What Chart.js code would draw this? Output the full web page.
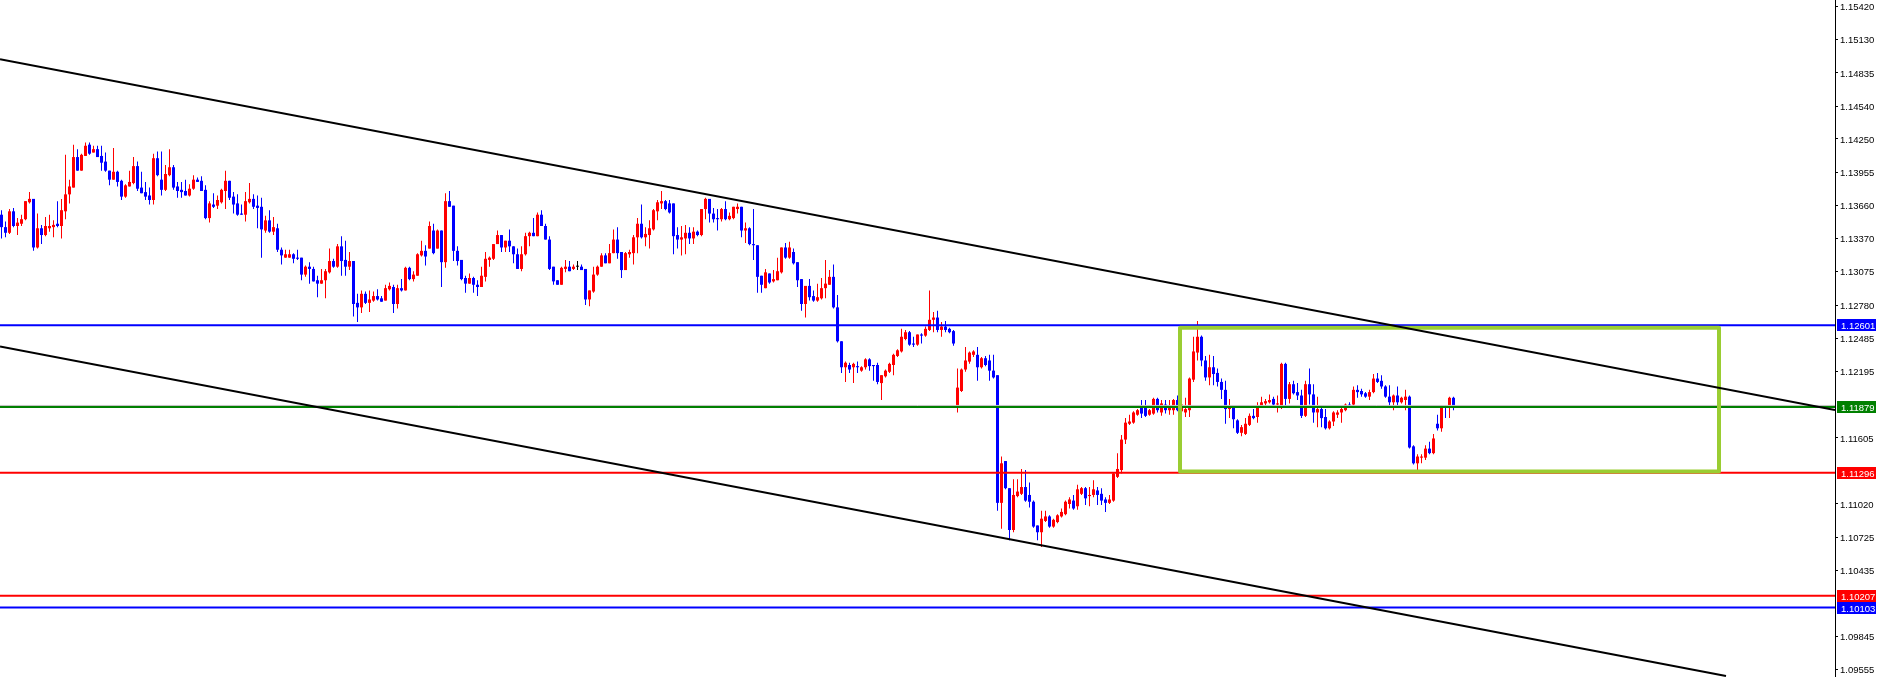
<!DOCTYPE html>
<html>
<head>
<meta charset="utf-8">
<title>EURUSD H1</title>
<script src="https://cdn.jsdelivr.net/npm/chart.js@4.4.1/dist/chart.umd.min.js"></script>
<style>
    html, body { margin: 0; padding: 0; background: #ffffff; }
    #chartWrap { position: relative; width: 1880px; height: 677px; }
</style>
</head>
<body>
<div id="chartWrap"><canvas id="priceChart"></canvas></div>
<script>
// candle values, oldest first
const openPrices = [
    1.1358,1.1347,1.1342,1.1361,1.1348,1.1350,1.1354,1.1369,1.1372,1.1329,
    1.1346,1.1340,1.1346,1.1347,1.1350,1.1348,1.1361,1.1376,1.1382,1.1409,
    1.1397,1.1410,1.1420,1.1413,1.1416,1.1410,1.1405,1.1397,1.1389,1.1396,
    1.1388,1.1374,1.1383,1.1386,1.1401,1.1382,1.1378,1.1375,1.1371,1.1408,
    1.1389,1.1380,1.1393,1.1400,1.1383,1.1380,1.1379,1.1375,1.1381,1.1389,
    1.1388,1.1380,1.1355,1.1367,1.1366,1.1369,1.1379,1.1388,1.1374,1.1368,
    1.1359,1.1358,1.1369,1.1372,1.1366,1.1365,1.1344,1.1353,1.1343,1.1346,
    1.1327,1.1320,1.1320,1.1323,1.1320,1.1320,1.1305,1.1312,1.1310,1.1300,
    1.1297,1.1300,1.1307,1.1317,1.1312,1.1330,1.1318,1.1312,1.1317,1.1280,
    1.1276,1.1288,1.1280,1.1282,1.1286,1.1284,1.1282,1.1292,1.1294,1.1279,
    1.1293,1.1291,1.1311,1.1301,1.1304,1.1322,1.1326,1.1328,1.1344,1.1328,
    1.1344,1.1316,1.1370,1.1366,1.1326,1.1318,1.1302,1.1297,1.1302,1.1296,
    1.1294,1.1303,1.1318,1.1319,1.1332,1.1340,1.1329,1.1335,1.1330,1.1323,
    1.1310,1.1323,1.1339,1.1342,1.1339,1.1358,1.1348,1.1336,1.1312,1.1300,
    1.1296,1.1310,1.1312,1.1310,1.1312,1.1312,1.1310,1.1283,1.1290,1.1305,
    1.1312,1.1322,1.1315,1.1324,1.1336,1.1325,1.1309,1.1323,1.1324,1.1338,
    1.1350,1.1338,1.1340,1.1345,1.1361,1.1368,1.1370,1.1368,1.1368,1.1340,
    1.1336,1.1337,1.1342,1.1337,1.1343,1.1340,1.1363,1.1372,1.1359,1.1355,
    1.1354,1.1363,1.1354,1.1355,1.1363,1.1365,1.1344,1.1346,1.1332,1.1331,
    1.1304,1.1293,1.1306,1.1299,1.1300,1.1307,1.1329,1.1320,1.1325,1.1316,
    1.1301,1.1279,1.1295,1.1286,1.1282,1.1284,1.1293,1.1296,1.1303,1.1276,
    1.1246,1.1223,1.1225,1.1223,1.1224,1.1220,1.1223,1.1230,1.1225,1.1225,
    1.1209,1.1215,1.1219,1.1225,1.1233,1.1237,1.1248,1.1254,1.1244,1.1243,
    1.1252,1.1251,1.1256,1.1265,1.1267,1.1256,1.1259,1.1257,1.1255,1.1187,
    1.1202,1.1221,1.1228,1.1234,1.1234,1.1223,1.1231,1.1229,1.1220,1.1216,
    1.1103,1.1140,1.1116,1.1079,1.1109,1.1111,1.1117,1.1110,1.1104,1.1083,
    1.1077,1.1087,1.1091,1.1082,1.1086,1.1091,1.1093,1.1102,1.1105,1.1100,
    1.1111,1.1116,1.1109,1.1110,1.1114,1.1111,1.1106,1.1103,1.1105,1.1126,
    1.1132,1.1159,1.1173,1.1174,1.1181,1.1189,1.1188,1.1181,1.1182,1.1195,
    1.1183,1.1190,1.1185,1.1185,1.1194,1.1184,1.1183,1.1185,1.1212,1.1236,
    1.1250,1.1229,1.1214,1.1223,1.1218,1.1210,1.1203,1.1186,1.1187,1.1176,
    1.1165,1.1164,1.1172,1.1180,1.1179,1.1188,1.1191,1.1192,1.1195,1.1190,
    1.1187,1.1226,1.1195,1.1208,1.1201,1.1198,1.1180,1.1208,1.1199,1.1183,
    1.1186,1.1179,1.1169,1.1175,1.1181,1.1183,1.1185,1.1190,1.1190,1.1203,
    1.1202,1.1200,1.1197,1.1201,1.1213,1.1211,1.1206,1.1197,1.1192,1.1198,
    1.1192,1.1194,1.1197,1.1153,1.1138,1.1143,1.1143,1.1151,1.1147,1.1173,
    1.1169,1.1188,1.1187,1.1196
];
const highPrices = [
    1.1362,1.1352,1.1363,1.1364,1.1355,1.1358,1.1370,1.1378,1.1372,1.1359,
    1.1349,1.1356,1.1358,1.1353,1.1370,1.1372,1.1411,1.1389,1.1420,1.1416,
    1.1412,1.1422,1.1422,1.1419,1.1419,1.1419,1.1413,1.1397,1.1417,1.1397,
    1.1389,1.1385,1.1397,1.1409,1.1405,1.1396,1.1387,1.1382,1.1412,1.1414,
    1.1414,1.1402,1.1416,1.1402,1.1387,1.1387,1.1389,1.1385,1.1393,1.1391,
    1.1392,1.1384,1.1370,1.1377,1.1375,1.1381,1.1397,1.1388,1.1378,1.1376,
    1.1367,1.1378,1.1386,1.1376,1.1375,1.1373,1.1357,1.1362,1.1356,1.1350,
    1.1329,1.1327,1.1327,1.1324,1.1327,1.1320,1.1313,1.1316,1.1312,1.1304,
    1.1310,1.1310,1.1328,1.1319,1.1332,1.1339,1.1335,1.1325,1.1317,1.1288,
    1.1291,1.1290,1.1291,1.1290,1.1292,1.1286,1.1296,1.1298,1.1296,1.1296,
    1.1301,1.1312,1.1312,1.1308,1.1324,1.1335,1.1331,1.1352,1.1350,1.1345,
    1.1344,1.1377,1.1379,1.1366,1.1330,1.1318,1.1304,1.1306,1.1303,1.1300,
    1.1312,1.1325,1.1321,1.1332,1.1344,1.1340,1.1335,1.1345,1.1330,1.1328,
    1.1330,1.1342,1.1343,1.1355,1.1360,1.1362,1.1350,1.1339,1.1312,1.1300,
    1.1312,1.1318,1.1317,1.1314,1.1317,1.1314,1.1310,1.1291,1.1312,1.1313,
    1.1324,1.1324,1.1332,1.1345,1.1347,1.1325,1.1325,1.1327,1.1340,1.1355,
    1.1367,1.1347,1.1353,1.1363,1.1371,1.1379,1.1371,1.1371,1.1368,1.1347,
    1.1348,1.1349,1.1347,1.1347,1.1344,1.1363,1.1373,1.1372,1.1364,1.1363,
    1.1364,1.1370,1.1360,1.1365,1.1368,1.1365,1.1351,1.1347,1.1363,1.1331,
    1.1304,1.1310,1.1306,1.1309,1.1320,1.1329,1.1333,1.1334,1.1328,1.1316,
    1.1301,1.1295,1.1301,1.1291,1.1297,1.1302,1.1318,1.1309,1.1314,1.1287,
    1.1246,1.1228,1.1227,1.1227,1.1228,1.1224,1.1231,1.1231,1.1225,1.1227,
    1.1216,1.1221,1.1227,1.1235,1.1239,1.1257,1.1256,1.1255,1.1250,1.1252,
    1.1253,1.1259,1.1291,1.1272,1.1273,1.1263,1.1264,1.1258,1.1256,1.1222,
    1.1222,1.1241,1.1237,1.1238,1.1241,1.1232,1.1233,1.1234,1.1234,1.1216,
    1.1144,1.1140,1.1116,1.1124,1.1124,1.1133,1.1132,1.1121,1.1105,1.1083,
    1.1096,1.1096,1.1092,1.1089,1.1093,1.1098,1.1105,1.1108,1.1110,1.1119,
    1.1117,1.1117,1.1117,1.1123,1.1117,1.1116,1.1108,1.1110,1.1130,1.1147,
    1.1163,1.1178,1.1181,1.1184,1.1186,1.1194,1.1194,1.1186,1.1196,1.1196,
    1.1194,1.1194,1.1194,1.1195,1.1198,1.1197,1.1196,1.1214,1.1250,1.1264,
    1.1251,1.1233,1.1234,1.1233,1.1222,1.1213,1.1211,1.1195,1.1188,1.1177,
    1.1172,1.1178,1.1182,1.1186,1.1192,1.1197,1.1195,1.1199,1.1197,1.1198,
    1.1227,1.1227,1.1210,1.1211,1.1209,1.1203,1.1211,1.1222,1.1208,1.1197,
    1.1188,1.1186,1.1176,1.1184,1.1185,1.1187,1.1191,1.1192,1.1206,1.1207,
    1.1204,1.1201,1.1203,1.1217,1.1218,1.1216,1.1207,1.1207,1.1199,1.1206,
    1.1197,1.1203,1.1198,1.1154,1.1146,1.1146,1.1154,1.1157,1.1164,1.1181,
    1.1189,1.1189,1.1197,1.1197
];
const lowPrices = [
    1.1337,1.1338,1.1341,1.1347,1.1340,1.1348,1.1353,1.1368,1.1326,1.1328,
    1.1332,1.1339,1.1343,1.1338,1.1347,1.1337,1.1354,1.1368,1.1382,1.1397,
    1.1397,1.1410,1.1411,1.1413,1.1409,1.1397,1.1396,1.1384,1.1389,1.1383,
    1.1371,1.1373,1.1383,1.1385,1.1379,1.1377,1.1371,1.1367,1.1367,1.1392,
    1.1375,1.1379,1.1392,1.1380,1.1373,1.1373,1.1375,1.1374,1.1380,1.1387,
    1.1379,1.1354,1.1351,1.1364,1.1363,1.1368,1.1363,1.1371,1.1359,1.1357,
    1.1358,1.1352,1.1368,1.1363,1.1346,1.1320,1.1342,1.1342,1.1340,1.1325,
    1.1314,1.1320,1.1320,1.1315,1.1318,1.1300,1.1303,1.1297,1.1299,1.1285,
    1.1297,1.1284,1.1306,1.1311,1.1311,1.1304,1.1304,1.1309,1.1268,1.1263,
    1.1271,1.1279,1.1272,1.1281,1.1282,1.1281,1.1282,1.1291,1.1271,1.1275,
    1.1290,1.1291,1.1300,1.1299,1.1304,1.1321,1.1313,1.1328,1.1323,1.1328,
    1.1294,1.1311,1.1365,1.1317,1.1313,1.1300,1.1289,1.1297,1.1289,1.1286,
    1.1294,1.1299,1.1312,1.1318,1.1332,1.1325,1.1325,1.1325,1.1315,1.1310,
    1.1308,1.1322,1.1330,1.1339,1.1339,1.1348,1.1336,1.1309,1.1296,1.1296,
    1.1296,1.1307,1.1308,1.1309,1.1309,1.1309,1.1278,1.1277,1.1289,1.1304,
    1.1312,1.1315,1.1315,1.1324,1.1319,1.1302,1.1309,1.1320,1.1314,1.1324,
    1.1337,1.1330,1.1328,1.1344,1.1353,1.1363,1.1362,1.1359,1.1323,1.1328,
    1.1322,1.1323,1.1332,1.1332,1.1339,1.1339,1.1354,1.1351,1.1351,1.1344,
    1.1352,1.1353,1.1353,1.1354,1.1359,1.1338,1.1333,1.1331,1.1318,1.1289,
    1.1289,1.1293,1.1297,1.1298,1.1300,1.1306,1.1319,1.1319,1.1314,1.1294,
    1.1273,1.1267,1.1282,1.1281,1.1281,1.1283,1.1284,1.1296,1.1275,1.1245,
    1.1218,1.1210,1.1218,1.1209,1.1218,1.1219,1.1221,1.1220,1.1211,1.1208,
    1.1194,1.1214,1.1218,1.1216,1.1232,1.1236,1.1247,1.1242,1.1241,1.1242,
    1.1244,1.1250,1.1255,1.1254,1.1254,1.1250,1.1254,1.1253,1.1242,1.1183,
    1.1201,1.1219,1.1226,1.1232,1.1211,1.1222,1.1224,1.1211,1.1213,1.1096,
    1.1080,1.1115,1.1070,1.1077,1.1108,1.1110,1.1104,1.1099,1.1081,1.1070,
    1.1064,1.1086,1.1081,1.1081,1.1085,1.1090,1.1092,1.1098,1.1097,1.1097,
    1.1110,1.1101,1.1100,1.1108,1.1101,1.1101,1.1095,1.1102,1.1104,1.1125,
    1.1129,1.1155,1.1172,1.1173,1.1180,1.1178,1.1179,1.1180,1.1181,1.1183,
    1.1180,1.1182,1.1181,1.1181,1.1184,1.1181,1.1179,1.1179,1.1210,1.1229,
    1.1224,1.1211,1.1207,1.1207,1.1206,1.1195,1.1173,1.1178,1.1169,1.1164,
    1.1162,1.1163,1.1171,1.1177,1.1174,1.1187,1.1188,1.1191,1.1189,1.1183,
    1.1186,1.1188,1.1191,1.1199,1.1194,1.1178,1.1179,1.1190,1.1174,1.1170,
    1.1170,1.1168,1.1168,1.1171,1.1178,1.1174,1.1184,1.1188,1.1188,1.1196,
    1.1197,1.1196,1.1194,1.1200,1.1209,1.1204,1.1196,1.1188,1.1185,1.1187,
    1.1191,1.1185,1.1151,1.1137,1.1132,1.1138,1.1141,1.1146,1.1146,1.1167,
    1.1166,1.1178,1.1178,1.1185
];
const closePrices = [
    1.1347,1.1342,1.1361,1.1348,1.1351,1.1354,1.1370,1.1372,1.1329,1.1346,
    1.1340,1.1348,1.1348,1.1349,1.1348,1.1362,1.1376,1.1383,1.1409,1.1397,
    1.1411,1.1419,1.1412,1.1416,1.1409,1.1404,1.1397,1.1389,1.1396,1.1387,
    1.1374,1.1384,1.1387,1.1401,1.1381,1.1377,1.1374,1.1371,1.1408,1.1393,
    1.1380,1.1394,1.1400,1.1382,1.1379,1.1378,1.1375,1.1381,1.1389,1.1387,
    1.1379,1.1355,1.1368,1.1365,1.1371,1.1380,1.1388,1.1373,1.1367,1.1358,
    1.1358,1.1370,1.1372,1.1365,1.1364,1.1345,1.1353,1.1343,1.1347,1.1327,
    1.1322,1.1323,1.1323,1.1319,1.1319,1.1305,1.1312,1.1310,1.1299,1.1297,
    1.1300,1.1308,1.1317,1.1312,1.1330,1.1317,1.1312,1.1317,1.1279,1.1276,
    1.1288,1.1280,1.1283,1.1286,1.1283,1.1281,1.1293,1.1295,1.1279,1.1293,
    1.1291,1.1311,1.1301,1.1305,1.1323,1.1326,1.1321,1.1348,1.1324,1.1344,
    1.1316,1.1370,1.1365,1.1326,1.1317,1.1301,1.1297,1.1302,1.1296,1.1294,
    1.1304,1.1319,1.1320,1.1332,1.1340,1.1329,1.1335,1.1330,1.1323,1.1310,
    1.1323,1.1339,1.1342,1.1339,1.1358,1.1348,1.1336,1.1310,1.1299,1.1296,
    1.1311,1.1312,1.1308,1.1312,1.1312,1.1309,1.1283,1.1291,1.1305,1.1312,
    1.1322,1.1315,1.1324,1.1336,1.1324,1.1309,1.1324,1.1325,1.1338,1.1350,
    1.1338,1.1341,1.1346,1.1362,1.1369,1.1370,1.1363,1.1360,1.1339,1.1336,
    1.1338,1.1342,1.1337,1.1343,1.1340,1.1363,1.1372,1.1359,1.1354,1.1354,
    1.1363,1.1354,1.1357,1.1365,1.1365,1.1344,1.1346,1.1332,1.1331,1.1303,
    1.1296,1.1307,1.1298,1.1301,1.1308,1.1329,1.1320,1.1329,1.1315,1.1300,
    1.1279,1.1295,1.1285,1.1282,1.1285,1.1293,1.1297,1.1303,1.1276,1.1246,
    1.1223,1.1227,1.1221,1.1226,1.1223,1.1223,1.1230,1.1224,1.1224,1.1210,
    1.1216,1.1220,1.1226,1.1234,1.1238,1.1250,1.1254,1.1243,1.1243,1.1252,
    1.1251,1.1257,1.1265,1.1267,1.1256,1.1259,1.1256,1.1254,1.1244,1.1205,
    1.1221,1.1229,1.1236,1.1237,1.1223,1.1231,1.1225,1.1220,1.1214,1.1103,
    1.1138,1.1116,1.1079,1.1110,1.1113,1.1117,1.1105,1.1104,1.1082,1.1077,
    1.1089,1.1091,1.1082,1.1088,1.1092,1.1095,1.1104,1.1106,1.1098,1.1115,
    1.1116,1.1107,1.1110,1.1115,1.1110,1.1105,1.1103,1.1106,1.1129,1.1133,
    1.1159,1.1174,1.1175,1.1183,1.1185,1.1182,1.1180,1.1185,1.1195,1.1185,
    1.1191,1.1185,1.1188,1.1194,1.1185,1.1190,1.1186,1.1213,1.1237,1.1250,
    1.1229,1.1214,1.1223,1.1217,1.1210,1.1203,1.1186,1.1187,1.1177,1.1165,
    1.1170,1.1173,1.1180,1.1178,1.1189,1.1192,1.1193,1.1194,1.1190,1.1191,
    1.1226,1.1195,1.1208,1.1200,1.1198,1.1180,1.1208,1.1199,1.1183,1.1186,
    1.1178,1.1169,1.1175,1.1183,1.1183,1.1186,1.1190,1.1189,1.1203,1.1201,
    1.1199,1.1197,1.1201,1.1213,1.1210,1.1206,1.1197,1.1192,1.1198,1.1192,
    1.1196,1.1197,1.1152,1.1138,1.1144,1.1144,1.1151,1.1147,1.1160,1.1169,
    1.1188,1.1187,1.1196,1.1188
];

// price axis labels
const priceTicks = [
    1.15420, 1.15130, 1.14835, 1.14540, 1.14250, 1.13955, 1.13660, 1.13370, 1.13075,
    1.12780, 1.12485, 1.12195, 1.11605, 1.11020, 1.10725, 1.10435, 1.09845, 1.09555
];
const priceMin = 1.09489;
const priceMax = 1.15480;

// horizontal levels
const blueLevelHigh = 1.12601;
const greenLevel = 1.11879;
const redLevelHigh = 1.11296;
const redLevelLow = 1.10207;
const blueLevelLow = 1.10103;
const askPrice = 1.11892;

// channel lines: [bar index, price]
const upperChannel = [[-0.375, 1.14955], [458.375, 1.11852]];
const lowerChannel = [[-0.375, 1.12414], [431.125, 1.09498]];

// range box: bar index from/to, price top/bottom
const boxBars = [294.625, 429.375];
const boxPrices = [1.12579, 1.11307];

const barMin = -0.375;
const barMax = 458.375;

const BULL = '#ff0000';
const BEAR = '#0000ff';
const DOJI = '#000000';

const candleColors = openPrices.map((o, i) => {
    if (closePrices[i] > o) return BULL;
    if (closePrices[i] < o) return BEAR;
    return DOJI;
});
const wickData = openPrices.map((_, i) => ({ x: i, y: [lowPrices[i], highPrices[i]] }));
const bodyData = openPrices.map((o, i) => ({ x: i, y: [o, closePrices[i]] }));

function levelLine(price, color, width) {
    return {
        type: 'line',
        data: [{ x: barMin, y: price }, { x: barMax, y: price }],
        borderColor: color,
        borderWidth: width,
        pointRadius: 0,
        fill: false,
        clip: 0,
        order: 1
    };
}

function pointsLine(points, color, width) {
    return {
        type: 'line',
        data: points.map(p => ({ x: p[0], y: p[1] })),
        borderColor: color,
        borderWidth: width,
        pointRadius: 0,
        fill: false,
        tension: 0,
        clip: 0,
        order: 0
    };
}

const boxPoints = [
    [boxBars[0], boxPrices[0]], [boxBars[1], boxPrices[0]],
    [boxBars[1], boxPrices[1]], [boxBars[0], boxPrices[1]],
    [boxBars[0], boxPrices[0]]
];
const boxLine = pointsLine(boxPoints, '#9acd32', 4);
boxLine.borderJoinStyle = 'round';
boxLine.borderCapStyle = 'round';

// coloured price tags on the right axis
const levelTags = [
    { price: blueLevelHigh, color: '#0000ff' },
    { price: greenLevel, color: '#008000' },
    { price: redLevelHigh, color: '#ff0000' },
    { price: redLevelLow, color: '#ff0000' },
    { price: blueLevelLow, color: '#0000ff' }
];

const axisFont = '9.5px "Liberation Sans", Arial, sans-serif';

const levelTagPlugin = {
    id: 'levelTags',
    afterDraw(chart) {
        const ctx = chart.ctx;
        const yScale = chart.scales.y;
        ctx.save();
        ctx.font = axisFont;
        ctx.textBaseline = 'middle';
        ctx.textAlign = 'left';
        levelTags.forEach(tag => {
            const py = Math.round(yScale.getPixelForValue(tag.price));
            ctx.fillStyle = tag.color;
            ctx.fillRect(yScale.left + 2, py - 6, 39, 12);
            ctx.fillStyle = '#ffffff';
            ctx.fillText(tag.price.toFixed(5), yScale.left + 6, py + 1);
        });
        ctx.restore();
    }
};

const ctx = document.getElementById('priceChart').getContext('2d');
new Chart(ctx, {
    type: 'bar',
    data: {
        datasets: [
            {
                label: 'wicks',
                data: wickData,
                backgroundColor: candleColors,
                barThickness: 1,
                grouped: false,
                borderWidth: 0,
                inflateAmount: 0,
                minBarLength: 1,
                order: 3
            },
            {
                label: 'bodies',
                data: bodyData,
                backgroundColor: candleColors,
                barThickness: 3,
                grouped: false,
                borderWidth: 0,
                inflateAmount: 0,
                minBarLength: 1,
                order: 2
            },
            levelLine(askPrice, '#c0c0c0', 1),
            levelLine(blueLevelHigh, '#0000ff', 2),
            levelLine(greenLevel, '#008000', 2),
            levelLine(redLevelHigh, '#ff0000', 2),
            levelLine(redLevelLow, '#ff0000', 2),
            levelLine(blueLevelLow, '#0000ff', 2),
            pointsLine(upperChannel, '#000000', 2),
            pointsLine(lowerChannel, '#000000', 2),
            boxLine
        ]
    },
    options: {
        responsive: true,
        maintainAspectRatio: false,
        animation: false,
        devicePixelRatio: 1,
        layout: { padding: 0 },
        plugins: {
            legend: { display: false },
            tooltip: { enabled: false }
        },
        scales: {
            x: {
                type: 'linear',
                min: barMin,
                max: barMax,
                offset: false,
                display: false
            },
            y: {
                type: 'linear',
                position: 'right',
                min: priceMin,
                max: priceMax,
                afterBuildTicks: function(scale) {
                    scale.ticks = priceTicks.map(v => ({ value: v }));
                },
                afterFit: function(scale) {
                    scale.width = 45;
                    scale.paddingTop = 0;
                    scale.paddingBottom = 0;
                },
                ticks: {
                    autoSkip: false,
                    color: '#000000',
                    padding: 2,
                    labelOffset: 1,
                    font: { family: '"Liberation Sans", Arial, sans-serif', size: 9.5 },
                    callback: function(value) {
                        return value.toFixed(5);
                    }
                },
                grid: {
                    drawOnChartArea: false,
                    drawTicks: true,
                    tickLength: 3,
                    color: '#000000'
                },
                border: { display: true, color: '#000000', width: 1 }
            }
        }
    },
    plugins: [levelTagPlugin]
});
</script>
</body>
</html>
